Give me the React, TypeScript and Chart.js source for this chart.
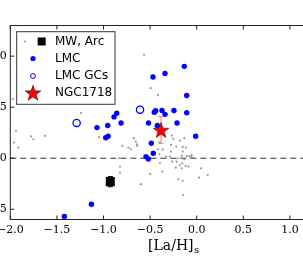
import React, { useEffect, useRef } from 'react';
import { Chart, registerables } from 'chart.js';

Chart.register(...registerables);

// ---- data ----
const X_TICKS = [-2.0, -1.5, -1.0, -0.5, 0.0, 0.5, 1.0, 1.5];
const Y_TICKS = [-0.5, 0.0, 0.5, 1.0];
const X_MIN = -2.0;
const X_MAX = 1.5;
const Y_MIN = -0.6;
const Y_MAX = 1.3;

const X_LABEL = '[La/H]';
const X_LABEL_SUB = 's';
const LEGEND_LABELS = ['MW, Arc', 'LMC', 'LMC GCs', 'NGC1718'];

// MW field stars (grey dots)
const MW_X = [
  -1.974, -1.939, -1.96, -1.914, -1.777, -1.753, -1.628, -1.241, -1.045, -0.834,
  -0.823, -0.823, -0.798, -0.734, -0.708, -0.673, -0.654, -0.641, -0.637, -0.697,
  -0.598, -0.565, -0.494, -0.415, -0.40,
  -0.265, -0.251, -0.179, -0.133, -0.276, -0.219, -0.150, -0.115, -0.415, -0.365,
  -0.276, -0.150, -0.401, -0.329, -0.286, -0.161, -0.107, -0.079, -0.061, -0.054,
  -0.036, -0.204, -0.133, -0.262, -0.215, -0.394, -0.155, -0.179, -0.118, -0.090,
  -0.225, -0.161, 0.046, -0.369, -0.498, 0.118, 0.025, -0.197, -0.150, -0.601,
  -0.144,
];
const MW_Y = [
  0.58, 0.268, 0.153, 0.104, 0.214, 0.186, 0.219, 0.444, 0.206, 0.0,
  -0.082, -0.141, 0.121, 0.104, 0.088, 0.196, 0.163, 0.137, 0.121, 0.0,
  -0.255, 1.013, 0.686, 0.62, 0.155,
  0.222, 0.189, 0.173, 0.196, 0.130, 0.114, 0.111, 0.104, 0.088, 0.084,
  0.065, 0.065, 0.039, 0.016, 0.016, 0.023, 0.020, 0.020, 0.010, 0.032,
  0.006, 0.0, -0.010, -0.033, -0.033, -0.049, -0.049, -0.066, -0.075, -0.082,
  -0.092, -0.098, -0.098, -0.131, -0.154, -0.164, -0.190, -0.206, -0.223, -0.255,
  -0.360,
];

// MW, Arc (black square)
const ARC_X = [-0.927];
const ARC_Y = [-0.229];
const ARC_ERR = [0.05];

// LMC (blue filled)
const LMC_X = [
  -1.42, -1.13, -1.07, -0.955, -0.887, -0.858, -0.812, -0.976, -0.951, -0.133,
  -0.34, -0.469, -0.107, -0.44, -0.455, -0.372, -0.34, -0.244, -0.107, -0.517,
  -0.211, -0.423, -0.011, -0.487, -0.466, -0.544, -0.519,
];
const LMC_Y = [
  -0.57, -0.45, 0.30, 0.32, 0.405, 0.44, 0.345, 0.20, 0.215, 0.90,
  0.83, 0.795, 0.615, 0.465, 0.45, 0.467, 0.43, 0.467, 0.445, 0.345,
  0.345, 0.32, 0.215, 0.147, 0.049, 0.016, -0.007,
];

// LMC GCs (open circles)
const GC_X = [-1.288, -0.608];
const GC_Y = [0.346, 0.476];

// NGC1718 (red star)
const NGC_X = [-0.383];
const NGC_Y = [0.277];
const NGC_ERR = [0.13];

// ---- layout ----
const OFF_X = 40;
const CW = 403;
const CH = 259;
const AREA_LEFT = 10.3 + OFF_X;
const AREA_RIGHT = 336.5 + OFF_X;
const AREA_TOP = 25.5;
const AREA_BOTTOM = 219.5;

const zip = (xs: number[], ys: number[]) => xs.map((x, i) => ({ x, y: ys[i] }));

function starPath(ctx: CanvasRenderingContext2D, cx: number, cy: number, R: number, r: number) {
  ctx.beginPath();
  for (let i = 0; i < 10; i++) {
    const rad = i % 2 === 0 ? R : r;
    const a = -Math.PI / 2 + (i * Math.PI) / 5;
    const px = cx + rad * Math.cos(a);
    const py = cy + rad * Math.sin(a);
    if (i === 0) ctx.moveTo(px, py);
    else ctx.lineTo(px, py);
  }
  ctx.closePath();
}

function makeStar(R: number) {
  const c = document.createElement('canvas');
  const s = 20;
  c.width = s;
  c.height = s;
  const ctx = c.getContext('2d')!;
  starPath(ctx, s / 2, s / 2 + 0.8, R, R * 0.4);
  ctx.fillStyle = '#ff0000';
  ctx.fill();
  ctx.lineWidth = 0.6;
  ctx.strokeStyle = '#400000';
  ctx.stroke();
  return c;
}

const fmt = (v: number) => (v < 0 ? '\u2212' : '') + Math.abs(v).toFixed(1);

const decorPlugin = {
  id: 'decor',
  beforeDatasetsDraw(chart: any) {
    const { ctx, chartArea } = chart;
    const xs = chart.scales.x;
    const ys = chart.scales.y;
    ctx.save();
    // dashed zero line
    ctx.strokeStyle = '#333';
    ctx.lineWidth = 1;
    ctx.setLineDash([6, 4]);
    const y0 = ys.getPixelForValue(0);
    ctx.beginPath();
    ctx.moveTo(chartArea.left, y0);
    ctx.lineTo(chartArea.right, y0);
    ctx.stroke();
    ctx.setLineDash([]);
    // error bars
    const bar = (x: number, y: number, e: number, color: string, cap: number) => {
      const px = xs.getPixelForValue(x);
      const p1 = ys.getPixelForValue(y - e);
      const p2 = ys.getPixelForValue(y + e);
      ctx.strokeStyle = color;
      ctx.lineWidth = 1;
      ctx.beginPath();
      ctx.moveTo(px, p1);
      ctx.lineTo(px, p2);
      ctx.moveTo(px - cap, p1);
      ctx.lineTo(px + cap, p1);
      ctx.moveTo(px - cap, p2);
      ctx.lineTo(px + cap, p2);
      ctx.stroke();
    };
    ARC_X.forEach((x, i) => bar(x, ARC_Y[i], ARC_ERR[i], '#000', 2.5));
    NGC_X.forEach((x, i) => bar(x, NGC_Y[i], NGC_ERR[i], '#f07070', 2.5));
    ctx.restore();
  },
  afterDraw(chart: any) {
    const { ctx, chartArea } = chart;
    const xs = chart.scales.x;
    const ys = chart.scales.y;
    ctx.save();
    // frame
    ctx.strokeStyle = '#222';
    ctx.lineWidth = 1;
    ctx.strokeRect(chartArea.left, chartArea.top, chartArea.right - chartArea.left, chartArea.bottom - chartArea.top);
    // inward ticks
    ctx.beginPath();
    X_TICKS.forEach((v) => {
      const px = xs.getPixelForValue(v);
      ctx.moveTo(px, chartArea.bottom);
      ctx.lineTo(px, chartArea.bottom - 4);
      ctx.moveTo(px, chartArea.top);
      ctx.lineTo(px, chartArea.top + 4);
    });
    Y_TICKS.forEach((v) => {
      const py = ys.getPixelForValue(v);
      ctx.moveTo(chartArea.left, py);
      ctx.lineTo(chartArea.left + 4, py);
      ctx.moveTo(chartArea.right, py);
      ctx.lineTo(chartArea.right - 4, py);
    });
    ctx.stroke();

    // x axis title with subscript
    ctx.fillStyle = '#000';
    ctx.textBaseline = 'alphabetic';
    ctx.textAlign = 'left';
    const mainFont = '14px "DejaVu Serif"';
    const subFont = '10px "DejaVu Serif"';
    ctx.font = mainFont;
    const w1 = ctx.measureText(X_LABEL).width;
    ctx.font = subFont;
    const w2 = ctx.measureText(X_LABEL_SUB).width;
    const cx = (chartArea.left + chartArea.right) / 2;
    const startX = cx - (w1 + w2) / 2;
    const base = 250;
    ctx.font = mainFont;
    ctx.fillText(X_LABEL, startX, base);
    ctx.font = subFont;
    ctx.fillText(X_LABEL_SUB, startX + w1 + 0.5, base + 2.5);

    // legend
    const L = 16.7 + OFF_X;
    const T = 31.7;
    const R = 115 + OFF_X;
    const B = 104.3;
    ctx.fillStyle = '#fff';
    ctx.fillRect(L, T, R - L, B - T);
    ctx.strokeStyle = '#333';
    ctx.lineWidth = 1;
    ctx.strokeRect(L, T, R - L, B - T);
    const rows = [41.5, 58.5, 76, 92.7];
    const mx = 33 + OFF_X;
    // row 1: grey dot + black square
    ctx.fillStyle = '#999';
    ctx.beginPath();
    ctx.arc(25 + OFF_X, rows[0], 1.1, 0, Math.PI * 2);
    ctx.fill();
    ctx.fillStyle = '#000';
    ctx.fillRect(41.7 + OFF_X - 4, rows[0] - 4, 8, 8);
    // row 2: blue filled circle
    ctx.fillStyle = '#0000ff';
    ctx.beginPath();
    ctx.arc(mx, rows[1], 2.6, 0, Math.PI * 2);
    ctx.fill();
    // row 3: open circle
    ctx.strokeStyle = '#0000ff';
    ctx.lineWidth = 1;
    ctx.beginPath();
    ctx.arc(mx, rows[2], 2.4, 0, Math.PI * 2);
    ctx.stroke();
    // row 4: star
    starPath(ctx, mx, rows[3] + 0.8, 8.2, 8.2 * 0.4);
    ctx.fillStyle = '#ff0000';
    ctx.fill();
    ctx.lineWidth = 0.6;
    ctx.strokeStyle = '#400000';
    ctx.stroke();
    // texts
    ctx.fillStyle = '#000';
    ctx.font = '12px "DejaVu Sans"';
    ctx.textBaseline = 'middle';
    LEGEND_LABELS.forEach((t, i) => ctx.fillText(t, 55 + OFF_X, rows[i]));
    ctx.restore();
  },
};

export default function App() {
  const ref = useRef<HTMLCanvasElement>(null);
  useEffect(() => {
    if (!ref.current) return;
    const star = makeStar(8.2);
    const chart = new Chart(ref.current, {
      type: 'scatter',
      data: {
        datasets: [
          {
            label: 'MW',
            data: zip(MW_X, MW_Y),
            pointRadius: 1.1,
            backgroundColor: '#999',
            borderWidth: 0,
          },
          {
            label: 'Arc',
            data: zip(ARC_X, ARC_Y),
            pointStyle: 'rect',
            pointRadius: 6.4,
            backgroundColor: '#000',
            borderColor: '#000',
            borderWidth: 0,
          },
          {
            label: 'LMC',
            data: zip(LMC_X, LMC_Y),
            pointRadius: 2.7,
            backgroundColor: '#0000ff',
            borderColor: '#0000ff',
            borderWidth: 0,
          },
          {
            label: 'LMC GCs',
            data: zip(GC_X, GC_Y),
            pointRadius: 3.6,
            backgroundColor: 'rgba(0,0,0,0)',
            borderColor: '#0000ff',
            borderWidth: 1.3,
          },
          {
            label: 'NGC1718',
            data: zip(NGC_X, NGC_Y),
            pointStyle: star as any,
            pointRadius: 8,
          },
        ],
      },
      options: {
        animation: false,
        responsive: false,
        events: [],
        layout: {
          padding: { left: 0, right: CW - AREA_RIGHT, top: AREA_TOP, bottom: 0 },
        },
        plugins: {
          legend: { display: false },
          tooltip: { enabled: false },
        },
        scales: {
          x: {
            type: 'linear',
            min: X_MIN,
            max: X_MAX,
            afterBuildTicks: (s: any) => {
              s.ticks = X_TICKS.map((v) => ({ value: v }));
            },
            afterFit: (s: any) => {
              s.height = CH - AREA_BOTTOM;
            },
            grid: { display: false, drawTicks: false },
            border: { display: false },
            ticks: {
              padding: 4,
              color: '#000',
              font: { family: 'DejaVu Serif', size: 11 },
              callback: (v: any) => fmt(Number(v)),
              maxRotation: 0,
              autoSkip: false,
            },
          },
          y: {
            type: 'linear',
            min: Y_MIN,
            max: Y_MAX,
            afterBuildTicks: (s: any) => {
              s.ticks = Y_TICKS.map((v) => ({ value: v }));
            },
            afterFit: (s: any) => {
              s.width = AREA_LEFT;
            },
            grid: { display: false, drawTicks: false },
            border: { display: false },
            ticks: {
              padding: 3.5,
              color: '#000',
              font: { family: 'DejaVu Serif', size: 11 },
              callback: (v: any) => fmt(Number(v)),
              autoSkip: false,
            },
          },
        },
      },
      plugins: [decorPlugin],
    });
    return () => chart.destroy();
  }, []);
  return (
    <div
      style={{
        position: 'fixed',
        left: 0,
        top: 0,
        width: 303,
        height: 259,
        overflow: 'hidden',
        background: '#fff',
      }}
    >
      <canvas
        ref={ref}
        width={CW}
        height={CH}
        style={{ position: 'absolute', left: -OFF_X, top: 0, width: CW, height: CH }}
      />
    </div>
  );
}
